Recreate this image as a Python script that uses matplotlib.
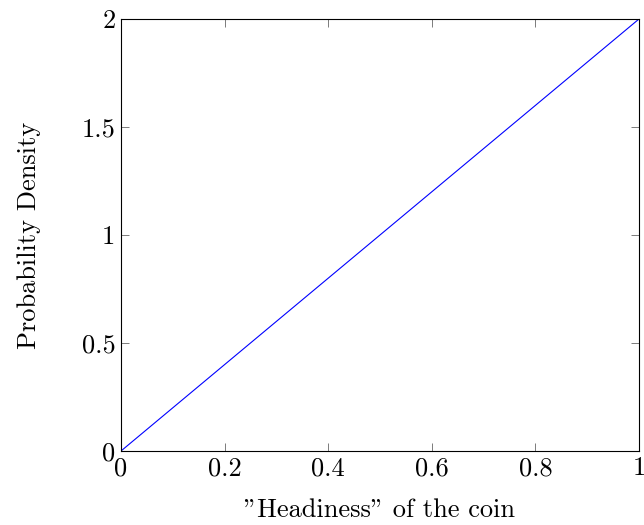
import matplotlib
matplotlib.use("Agg")
import matplotlib.pyplot as plt

# coin headiness vs probability density
headiness = [0, 1]
density = [0, 2]

x_ticks = [0, 0.2, 0.4, 0.6, 0.8, 1]
x_tick_labels = ["0", "0.2", "0.4", "0.6", "0.8", "1"]
y_ticks = [0, 0.5, 1, 1.5, 2]
y_tick_labels = ["0", "0.5", "1", "1.5", "2"]

plt.rcParams["font.family"] = "serif"
plt.rcParams["font.serif"] = ["cmr10", "DejaVu Serif"]
plt.rcParams["axes.formatter.use_mathtext"] = True

fig = plt.figure(figsize=(6.44, 5.25), dpi=100)
ax = fig.add_axes([121 / 644, 1 - 451 / 525, 518 / 644, 432 / 525])

ax.plot(headiness, density, color="blue", linewidth=0.8)

ax.set_xlim(0, 1)
ax.set_ylim(0, 2)
ax.set_xticks(x_ticks)
ax.set_xticklabels(x_tick_labels)
ax.set_yticks(y_ticks)
ax.set_yticklabels(y_tick_labels)

ax.tick_params(direction="in", length=6, width=0.6, color="#666666",
               top=True, right=True, labelsize=19, pad=4)
for spine in ax.spines.values():
    spine.set_linewidth(0.8)

ax.set_xlabel('"Headiness" of the coin', fontsize=19, labelpad=13)
ax.set_ylabel("Probability Density", fontsize=19, labelpad=29)

fig.savefig("out.png", dpi=100)
